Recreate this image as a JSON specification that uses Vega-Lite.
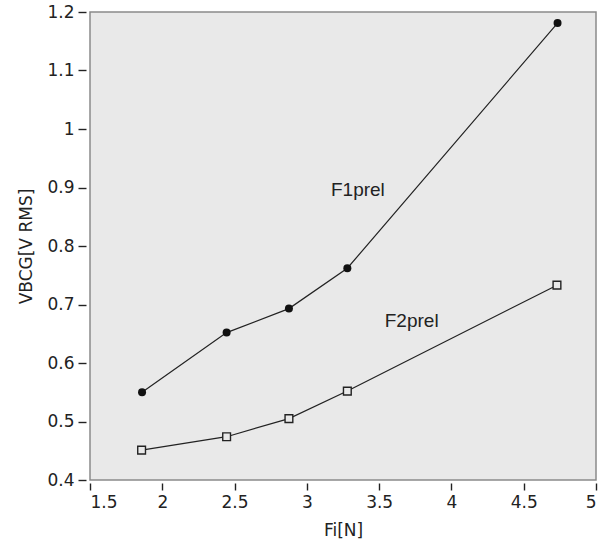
{
  "$schema": "https://vega.github.io/schema/vega-lite/v6.json",
  "width": 506,
  "height": 468,
  "autosize": {"type": "none"},
  "padding": {"left": 90, "top": 12, "right": 4, "bottom": 68},
  "background": "white",
  "config": {
    "view": {"fill": "#e9e9e9", "stroke": "#8a8a8a", "strokeWidth": 1.5},
    "axis": {
      "grid": false,
      "domain": false,
      "labelFont": "DejaVu Sans",
      "titleFont": "DejaVu Sans",
      "labelFontSize": 17,
      "titleFontSize": 17,
      "titleFontWeight": "normal",
      "labelColor": "#222",
      "titleColor": "#222",
      "tickColor": "#222",
      "tickWidth": 1.4
    }
  },
  "datasets": {
    "pts": [
      {"series": "F1prel", "Fi": 1.86, "V": 0.55},
      {"series": "F1prel", "Fi": 2.445, "V": 0.652},
      {"series": "F1prel", "Fi": 2.876, "V": 0.693},
      {"series": "F1prel", "Fi": 3.28, "V": 0.762},
      {"series": "F1prel", "Fi": 4.734, "V": 1.181},
      {"series": "F2prel", "Fi": 1.857, "V": 0.451},
      {"series": "F2prel", "Fi": 2.445, "V": 0.474},
      {"series": "F2prel", "Fi": 2.876, "V": 0.505},
      {"series": "F2prel", "Fi": 3.28, "V": 0.552},
      {"series": "F2prel", "Fi": 4.73, "V": 0.733}
    ],
    "labels": [
      {"text": "F1prel", "Fi": 3.353, "V": 0.896},
      {"text": "F2prel", "Fi": 3.725, "V": 0.672}
    ]
  },
  "layer": [
    {
      "data": {"name": "pts"},
      "mark": {"type": "line", "color": "#222", "strokeWidth": 1.2},
      "encoding": {
        "x": {
          "field": "Fi", "type": "quantitative",
          "scale": {"domain": [1.5, 5], "nice": false, "zero": false},
          "axis": {"title": "Fi[N]", "values": [1.5, 2, 2.5, 3, 3.5, 4, 4.5, 5], "format": ".1~f", "offset": 3, "tickSize": 7, "labelPadding": 4, "titlePadding": 12}
        },
        "y": {
          "field": "V", "type": "quantitative",
          "scale": {"domain": [0.4, 1.2], "nice": false, "zero": false},
          "axis": {"title": "VBCG[V RMS]", "values": [0.4, 0.5, 0.6, 0.7, 0.8, 0.9, 1, 1.1, 1.2], "format": ".1~f", "offset": 4, "tickSize": 8, "labelPadding": 4, "titlePadding": 11}
        },
        "detail": {"field": "series"}
      }
    },
    {
      "data": {"name": "pts"},
      "transform": [{"filter": "datum.series === 'F1prel'"}],
      "mark": {"type": "point", "shape": "circle", "filled": true, "color": "#111", "size": 64, "opacity": 1},
      "encoding": {
        "x": {"field": "Fi", "type": "quantitative"},
        "y": {"field": "V", "type": "quantitative"}
      }
    },
    {
      "data": {"name": "pts"},
      "transform": [{"filter": "datum.series === 'F2prel'"}],
      "mark": {"type": "point", "shape": "square", "filled": false, "fill": "#e9e9e9", "fillOpacity": 1, "stroke": "#222", "strokeWidth": 1.4, "size": 60, "opacity": 1},
      "encoding": {
        "x": {"field": "Fi", "type": "quantitative"},
        "y": {"field": "V", "type": "quantitative"}
      }
    },
    {
      "data": {"name": "labels"},
      "mark": {"type": "text", "font": "Liberation Sans", "fontSize": 19, "color": "#222", "align": "center", "baseline": "middle"},
      "encoding": {
        "x": {"field": "Fi", "type": "quantitative"},
        "y": {"field": "V", "type": "quantitative"},
        "text": {"field": "text"}
      }
    }
  ]
}
